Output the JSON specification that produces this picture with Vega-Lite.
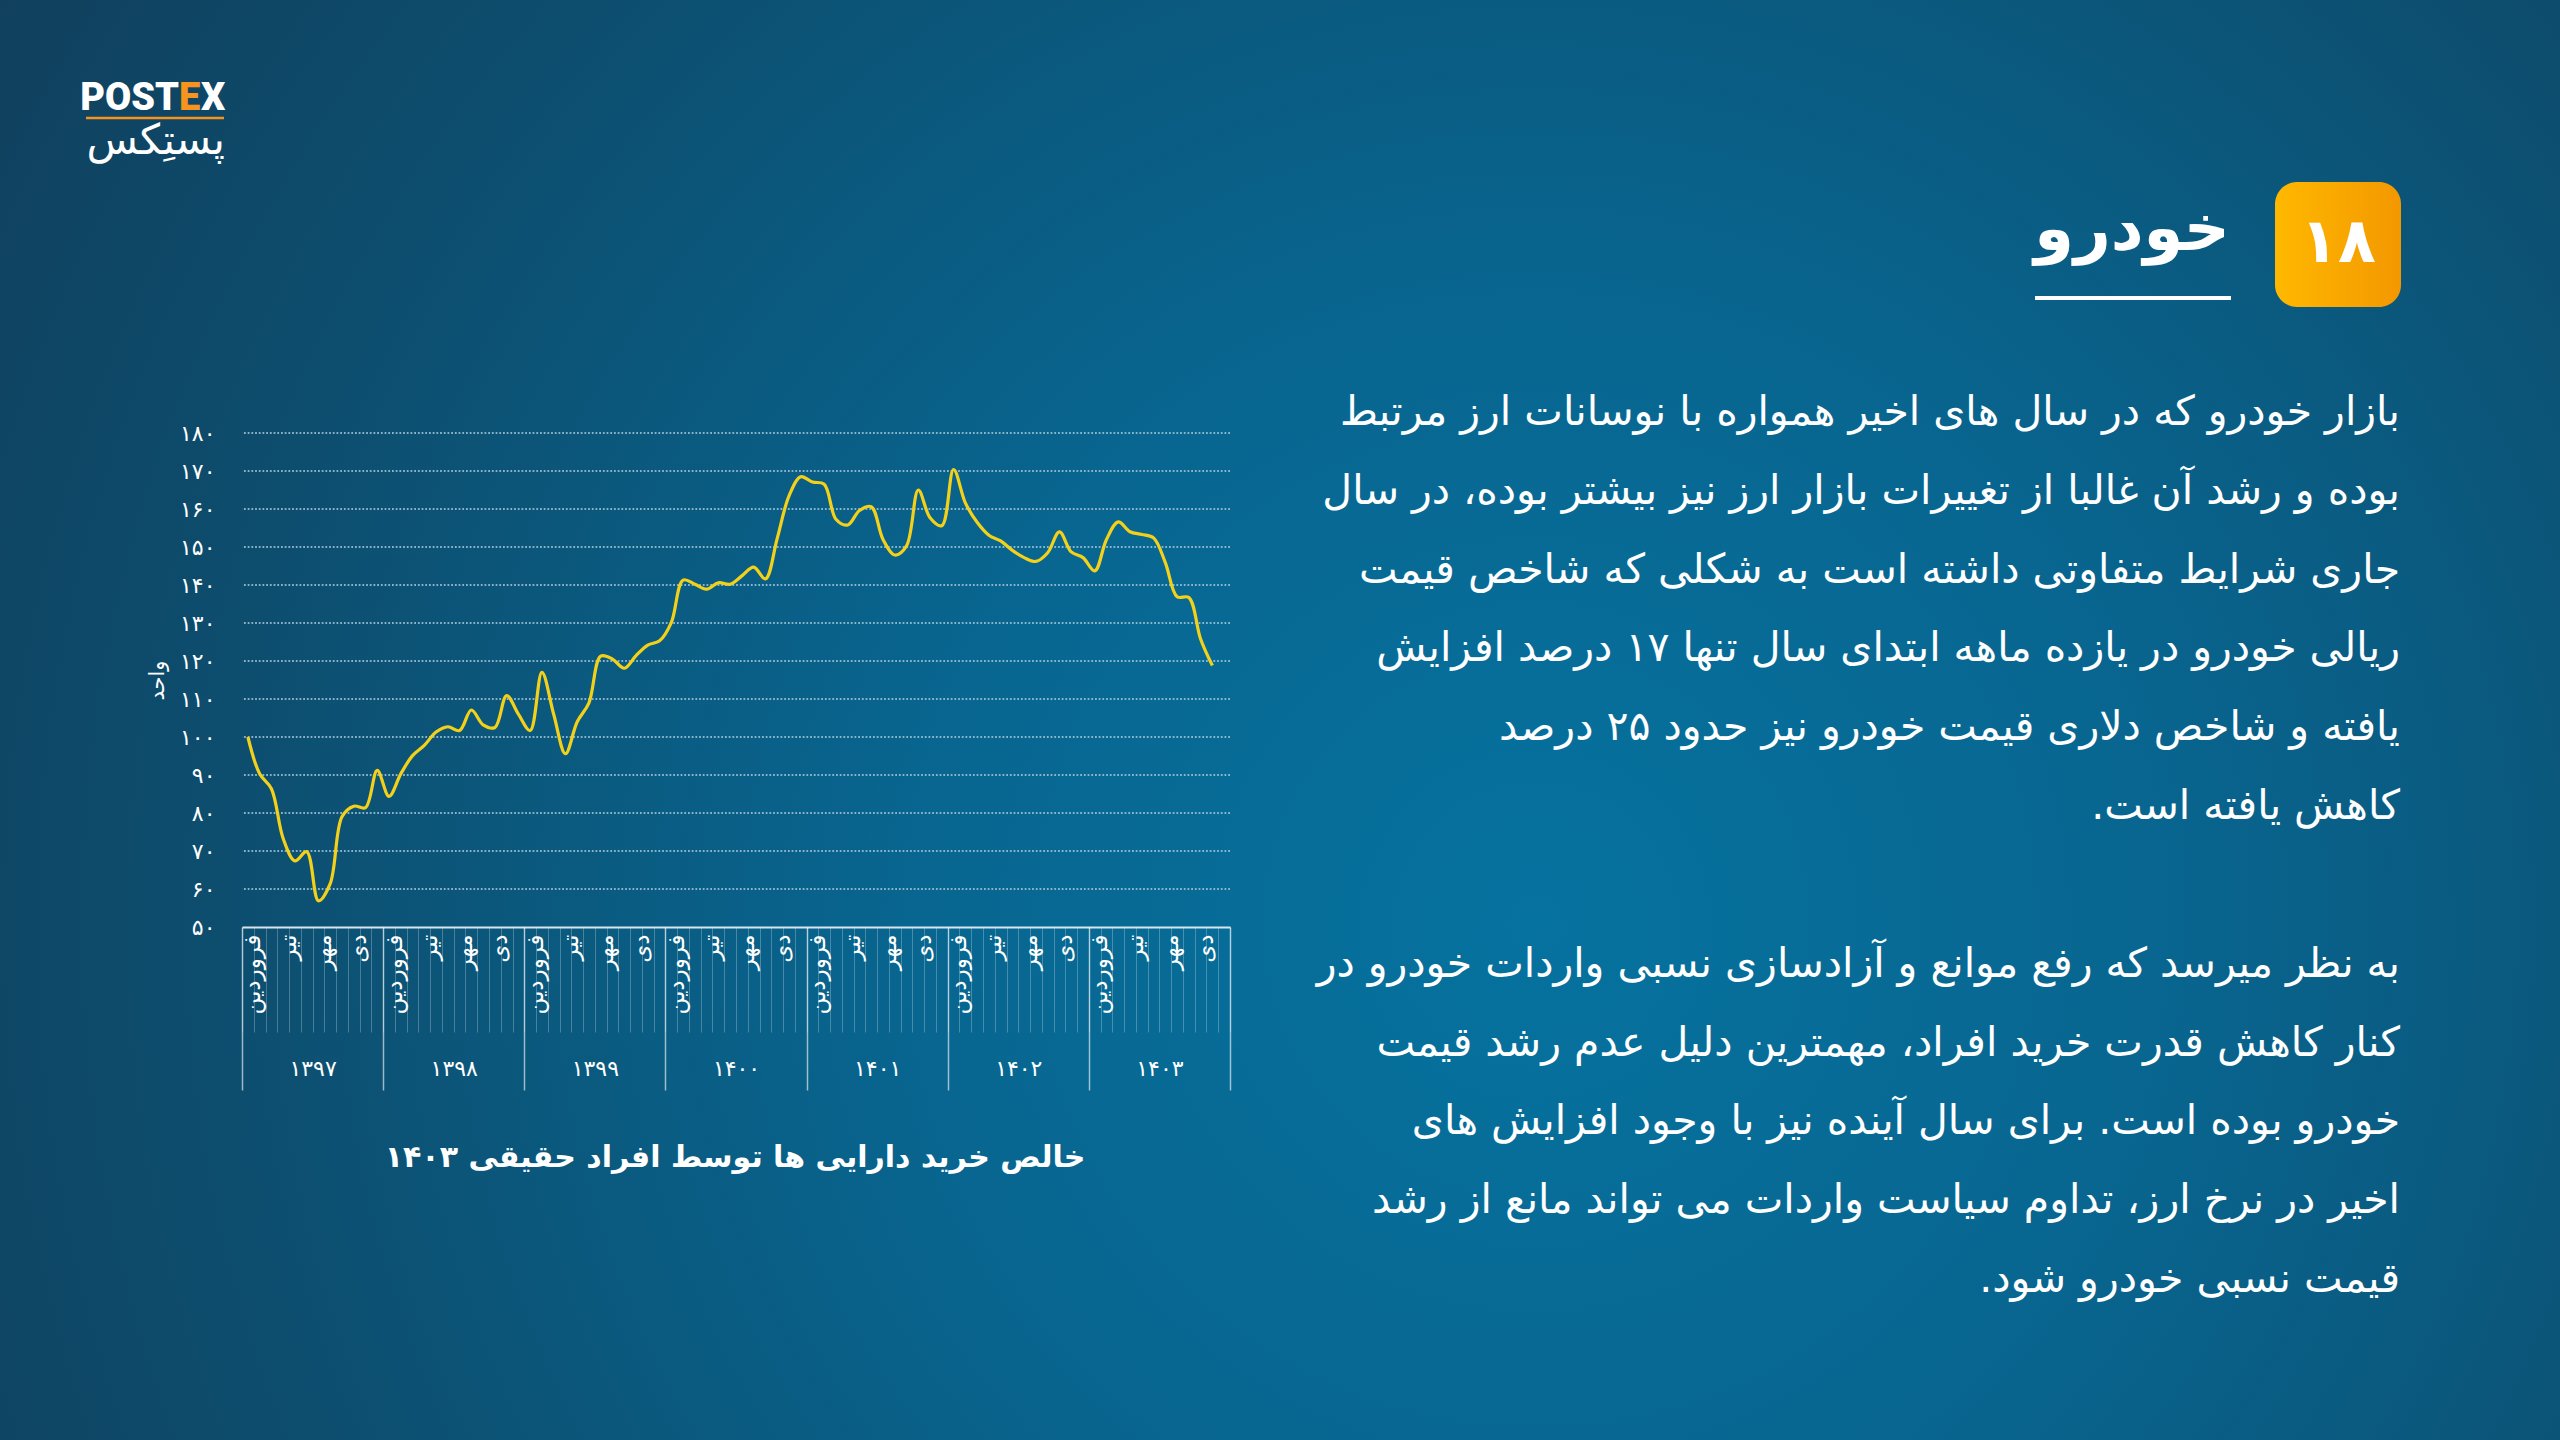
{
  "$schema": "https://vega.github.io/schema/vega-lite/v6.json",
  "width": 988,
  "height": 494,
  "autosize": "none",
  "padding": {"left": 242, "top": 433, "right": 1330, "bottom": 513},
  "background": "#0e4a6a",
  "config": {"view": {"stroke": null}, "font": "DejaVu Sans"},
  "resolve": {"scale": {"x": "independent", "y": "independent"}, "axis": {"x": "independent", "y": "independent"}},
  "layer": [
    {
      "data": {"values": [{"label": "bg"}]},
      "mark": {"type": "rect", "fill": {"gradient": "radial", "x1": 0.6, "y1": 0.58, "r1": 0, "x2": 0.6, "y2": 0.58, "r2": 0.8, "stops": [{"offset": 0, "color": "#06729f"}, {"offset": 0.3, "color": "#086690"}, {"offset": 0.65, "color": "#0d4d6e"}, {"offset": 1, "color": "#123954"}]}},
      "encoding": {
        "x": {"datum": 0, "type": "quantitative", "scale": {"domain": [0, 2560], "range": [-242, 2318], "nice": false, "zero": false}, "axis": null},
        "x2": {"datum": 2560},
        "y": {"datum": 0, "type": "quantitative", "scale": {"domain": [0, 1440], "range": [-433, 1007], "nice": false, "zero": false}, "axis": null},
        "y2": {"datum": 1440}
      }
    },
    {
      "data": {"values": [{"v": 60}, {"v": 70}, {"v": 80}, {"v": 90}, {"v": 100}, {"v": 110}, {"v": 120}, {"v": 130}, {"v": 140}, {"v": 150}, {"v": 160}, {"v": 170}, {"v": 180}]},
      "mark": {"type": "rule", "color": "#a9c9dc", "opacity": 0.8, "strokeWidth": 1.8, "strokeDash": [1.8, 1.9]},
      "encoding": {
        "y": {"field": "v", "type": "quantitative", "scale": {"domain": [50, 180], "nice": false, "zero": false}, "axis": null}
      }
    },
    {
      "data": {"values": [
        {"i": 1, "year": 1397, "month": 1, "v": 100}, {"i": 2, "year": 1397, "month": 2, "v": 90.3}, {"i": 3, "year": 1397, "month": 3, "v": 86.4}, {"i": 4, "year": 1397, "month": 4, "v": 73.3}, {"i": 5, "year": 1397, "month": 5, "v": 67.4}, {"i": 6, "year": 1397, "month": 6, "v": 69.8}, {"i": 7, "year": 1397, "month": 7, "v": 56.9}, {"i": 8, "year": 1397, "month": 8, "v": 61.4}, {"i": 9, "year": 1397, "month": 9, "v": 79}, {"i": 10, "year": 1397, "month": 10, "v": 81.8}, {"i": 11, "year": 1397, "month": 11, "v": 81.4}, {"i": 12, "year": 1397, "month": 12, "v": 91.2},
        {"i": 13, "year": 1398, "month": 1, "v": 84.4}, {"i": 14, "year": 1398, "month": 2, "v": 90.3}, {"i": 15, "year": 1398, "month": 3, "v": 95.1}, {"i": 16, "year": 1398, "month": 4, "v": 97.8}, {"i": 17, "year": 1398, "month": 5, "v": 101.3}, {"i": 18, "year": 1398, "month": 6, "v": 102.7}, {"i": 19, "year": 1398, "month": 7, "v": 101.7}, {"i": 20, "year": 1398, "month": 8, "v": 107.1}, {"i": 21, "year": 1398, "month": 9, "v": 103.2}, {"i": 22, "year": 1398, "month": 10, "v": 102.5}, {"i": 23, "year": 1398, "month": 11, "v": 110.9}, {"i": 24, "year": 1398, "month": 12, "v": 106},
        {"i": 25, "year": 1399, "month": 1, "v": 101.7}, {"i": 26, "year": 1399, "month": 2, "v": 117}, {"i": 27, "year": 1399, "month": 3, "v": 106}, {"i": 28, "year": 1399, "month": 4, "v": 95.6}, {"i": 29, "year": 1399, "month": 5, "v": 104}, {"i": 30, "year": 1399, "month": 6, "v": 109}, {"i": 31, "year": 1399, "month": 7, "v": 121.3}, {"i": 32, "year": 1399, "month": 8, "v": 120.5}, {"i": 33, "year": 1399, "month": 9, "v": 118.1}, {"i": 34, "year": 1399, "month": 10, "v": 121.4}, {"i": 35, "year": 1399, "month": 11, "v": 124.2}, {"i": 36, "year": 1399, "month": 12, "v": 125.3},
        {"i": 37, "year": 1400, "month": 1, "v": 130.1}, {"i": 38, "year": 1400, "month": 2, "v": 141.3}, {"i": 39, "year": 1400, "month": 3, "v": 140.2}, {"i": 40, "year": 1400, "month": 4, "v": 138.9}, {"i": 41, "year": 1400, "month": 5, "v": 140.6}, {"i": 42, "year": 1400, "month": 6, "v": 140.2}, {"i": 43, "year": 1400, "month": 7, "v": 142.4}, {"i": 44, "year": 1400, "month": 8, "v": 144.7}, {"i": 45, "year": 1400, "month": 9, "v": 141.6}, {"i": 46, "year": 1400, "month": 10, "v": 152.2}, {"i": 47, "year": 1400, "month": 11, "v": 163.4}, {"i": 48, "year": 1400, "month": 12, "v": 168.5},
        {"i": 49, "year": 1401, "month": 1, "v": 167.1}, {"i": 50, "year": 1401, "month": 2, "v": 166.5}, {"i": 51, "year": 1401, "month": 3, "v": 157.3}, {"i": 52, "year": 1401, "month": 4, "v": 155.8}, {"i": 53, "year": 1401, "month": 5, "v": 159.6}, {"i": 54, "year": 1401, "month": 6, "v": 160.6}, {"i": 55, "year": 1401, "month": 7, "v": 152}, {"i": 56, "year": 1401, "month": 8, "v": 147.9}, {"i": 57, "year": 1401, "month": 9, "v": 150.3}, {"i": 58, "year": 1401, "month": 10, "v": 165}, {"i": 59, "year": 1401, "month": 11, "v": 157.7}, {"i": 60, "year": 1401, "month": 12, "v": 155.6},
        {"i": 61, "year": 1402, "month": 1, "v": 170.4}, {"i": 62, "year": 1402, "month": 2, "v": 161.6}, {"i": 63, "year": 1402, "month": 3, "v": 156.5}, {"i": 64, "year": 1402, "month": 4, "v": 153.1}, {"i": 65, "year": 1402, "month": 5, "v": 151.6}, {"i": 66, "year": 1402, "month": 6, "v": 149.1}, {"i": 67, "year": 1402, "month": 7, "v": 147.2}, {"i": 68, "year": 1402, "month": 8, "v": 146.2}, {"i": 69, "year": 1402, "month": 9, "v": 148.5}, {"i": 70, "year": 1402, "month": 10, "v": 154}, {"i": 71, "year": 1402, "month": 11, "v": 148.7}, {"i": 72, "year": 1402, "month": 12, "v": 147.2},
        {"i": 73, "year": 1403, "month": 1, "v": 143.7}, {"i": 74, "year": 1403, "month": 2, "v": 152}, {"i": 75, "year": 1403, "month": 3, "v": 156.6}, {"i": 76, "year": 1403, "month": 4, "v": 154}, {"i": 77, "year": 1403, "month": 5, "v": 153.3}, {"i": 78, "year": 1403, "month": 6, "v": 152.4}, {"i": 79, "year": 1403, "month": 7, "v": 145.9}, {"i": 80, "year": 1403, "month": 8, "v": 136.9}, {"i": 81, "year": 1403, "month": 9, "v": 136.7}, {"i": 82, "year": 1403, "month": 10, "v": 125.8}, {"i": 83, "year": 1403, "month": 11, "v": 118.8}
      ]},
      "mark": {"type": "line", "color": "#f3d11b", "strokeWidth": 3.2, "interpolate": "catmull-rom"},
      "encoding": {
        "x": {"field": "i", "type": "ordinal",
          "scale": {"type": "band", "paddingInner": 0, "paddingOuter": 0, "domain": [1,2,3,4,5,6,7,8,9,10,11,12,13,14,15,16,17,18,19,20,21,22,23,24,25,26,27,28,29,30,31,32,33,34,35,36,37,38,39,40,41,42,43,44,45,46,47,48,49,50,51,52,53,54,55,56,57,58,59,60,61,62,63,64,65,66,67,68,69,70,71,72,73,74,75,76,77,78,79,80,81,82,83,84]},
          "axis": {"orient": "bottom", "title": null, "zindex": 1, "domain": true, "domainColor": "#d7e6ee", "domainWidth": 2, "tickBand": "extent", "ticks": true, "tickColor": "rgba(255,255,255,0.25)", "tickWidth": 1, "tickSize": 105, "labelAngle": 270, "labelAlign": "right", "labelBaseline": "middle", "labelPadding": -98, "labelOffset": 5, "labelColor": "white", "labelFontSize": 23, "labelFont": "DejaVu Sans", "labelOverlap": false, "labelFlush": false, "labelBound": false,
            "labelExpr": "datum.value % 12 == 1 ? 'فروردین' : datum.value % 12 == 4 ? 'تیر' : datum.value % 12 == 7 ? 'مهر' : datum.value % 12 == 10 ? 'دی' : ''"}
        },
        "y": {"field": "v", "type": "quantitative", "scale": {"domain": [50, 180], "nice": false, "zero": false},
          "axis": {"orient": "left", "zindex": 1, "grid": false, "domain": false, "ticks": false, "values": [50,60,70,80,90,100,110,120,130,140,150,160,170,180], "labelPadding": 27, "labelFontSize": 22, "labelColor": "white", "labelFont": "DejaVu Sans",
            "labelExpr": "replace(replace(replace(replace(replace(replace(replace(replace(replace(replace(datum.label, regexp('0','g'), '۰'), regexp('1','g'), '۱'), regexp('2','g'), '۲'), regexp('3','g'), '۳'), regexp('4','g'), '۴'), regexp('5','g'), '۵'), regexp('6','g'), '۶'), regexp('7','g'), '۷'), regexp('8','g'), '۸'), regexp('9','g'), '۹')",
            "title": "واحد", "titleColor": "white", "titleFontSize": 21, "titleFontWeight": "normal", "titleFont": "DejaVu Sans", "titlePadding": 12}
        }
      }
    },
    {
      "data": {"values": [{"year": "۱۳۹۷"}, {"year": "۱۳۹۸"}, {"year": "۱۳۹۹"}, {"year": "۱۴۰۰"}, {"year": "۱۴۰۱"}, {"year": "۱۴۰۲"}, {"year": "۱۴۰۳"}]},
      "mark": {"type": "rule", "opacity": 0},
      "encoding": {
        "x": {"field": "year", "type": "ordinal", "scale": {"type": "band", "paddingInner": 0, "paddingOuter": 0},
          "axis": {"orient": "bottom", "title": null, "zindex": 1, "domain": false, "tickBand": "extent", "ticks": true, "tickColor": "rgba(255,255,255,0.6)", "tickWidth": 1.5, "tickSize": 163, "labelAngle": 0, "labelAlign": "center", "labelBaseline": "middle", "labelPadding": -22, "labelColor": "white", "labelFontSize": 22, "labelFont": "DejaVu Sans"}
        }
      }
    },
    {
      "data": {"values": [{"label": "خالص خرید دارایی ها توسط افراد حقیقی ۱۴۰۳"}]},
      "mark": {"type": "text", "align": "center", "baseline": "alphabetic", "fontSize": 30, "fontWeight": "bold", "color": "white", "font": "DejaVu Sans"},
      "encoding": {
        "x": {"datum": 735, "type": "quantitative", "scale": {"domain": [0, 2560], "range": [-242, 2318], "nice": false, "zero": false}, "axis": null},
        "y": {"datum": 1167, "type": "quantitative", "scale": {"domain": [0, 1440], "range": [-433, 1007], "nice": false, "zero": false}, "axis": null},
        "text": {"field": "label"}
      }
    },
    {
      "data": {"values": [
        {"line": 0, "text": "بازار خودرو که در سال های اخیر همواره با نوسانات ارز مرتبط"},
        {"line": 1, "text": "بوده و رشد آن غالبا از تغییرات بازار ارز نیز بیشتر بوده، در سال"},
        {"line": 2, "text": "جاری شرایط متفاوتی داشته است به شکلی که شاخص قیمت"},
        {"line": 3, "text": "ریالی خودرو در یازده ماهه ابتدای سال تنها ۱۷ درصد افزایش"},
        {"line": 4, "text": "یافته و شاخص دلاری قیمت خودرو نیز حدود ۲۵ درصد"},
        {"line": 5, "text": "کاهش یافته است.‏"},
        {"line": 7, "text": "به نظر میرسد که رفع موانع و آزادسازی نسبی واردات خودرو در"},
        {"line": 8, "text": "کنار کاهش قدرت خرید افراد، مهمترین دلیل عدم رشد قیمت"},
        {"line": 9, "text": "خودرو بوده است. برای سال آینده نیز با وجود افزایش های"},
        {"line": 10, "text": "اخیر در نرخ ارز، تداوم سیاست واردات می تواند مانع از رشد"},
        {"line": 11, "text": "قیمت نسبی خودرو شود.‏"}
      ]},
      "mark": {"type": "text", "align": "right", "baseline": "alphabetic", "fontSize": 41, "color": "white", "font": "DejaVu Sans"},
      "encoding": {
        "x": {"datum": 2400, "type": "quantitative", "scale": {"domain": [0, 2560], "range": [-242, 2318], "nice": false, "zero": false}, "axis": null},
        "y": {"field": "line", "type": "quantitative", "scale": {"domain": [0, 11], "range": [-8, 859], "nice": false, "zero": false}, "axis": null},
        "text": {"field": "text"}
      }
    },
    {
      "data": {"values": [{"label": "خودرو"}]},
      "mark": {"type": "text", "align": "center", "baseline": "alphabetic", "fontSize": 64, "fontWeight": "bold", "color": "white", "font": "DejaVu Sans"},
      "encoding": {
        "x": {"datum": 2132, "type": "quantitative", "scale": {"domain": [0, 2560], "range": [-242, 2318], "nice": false, "zero": false}, "axis": null},
        "y": {"datum": 250, "type": "quantitative", "scale": {"domain": [0, 1440], "range": [-433, 1007], "nice": false, "zero": false}, "axis": null},
        "text": {"field": "label"}
      }
    },
    {
      "data": {"values": [{"label": "خودرو"}]},
      "mark": {"type": "rule", "color": "white", "strokeWidth": 4},
      "encoding": {
        "x": {"datum": 2035, "type": "quantitative", "scale": {"domain": [0, 2560], "range": [-242, 2318], "nice": false, "zero": false}, "axis": null},
        "x2": {"datum": 2231},
        "y": {"datum": 298, "type": "quantitative", "scale": {"domain": [0, 1440], "range": [-433, 1007], "nice": false, "zero": false}, "axis": null}
      }
    },
    {
      "data": {"values": [{"label": "۱۸"}]},
      "mark": {"type": "rect", "cornerRadius": 22, "fill": {"gradient": "linear", "x1": 0, "y1": 0, "x2": 1, "y2": 0, "stops": [{"offset": 0, "color": "#ffb800"}, {"offset": 1, "color": "#f39800"}]}},
      "encoding": {
        "x": {"datum": 2275, "type": "quantitative", "scale": {"domain": [0, 2560], "range": [-242, 2318], "nice": false, "zero": false}, "axis": null},
        "x2": {"datum": 2401},
        "y": {"datum": 182, "type": "quantitative", "scale": {"domain": [0, 1440], "range": [-433, 1007], "nice": false, "zero": false}, "axis": null},
        "y2": {"datum": 307}
      }
    },
    {
      "data": {"values": [{"label": "۱۸"}]},
      "mark": {"type": "text", "align": "center", "baseline": "middle", "fontSize": 62, "fontWeight": "bold", "color": "white", "font": "DejaVu Sans"},
      "encoding": {
        "x": {"datum": 2338, "type": "quantitative", "scale": {"domain": [0, 2560], "range": [-242, 2318], "nice": false, "zero": false}, "axis": null},
        "y": {"datum": 243, "type": "quantitative", "scale": {"domain": [0, 1440], "range": [-433, 1007], "nice": false, "zero": false}, "axis": null},
        "text": {"field": "label"}
      }
    },
    {
      "data": {"values": [{"label": "POST"}]},
      "mark": {"type": "text", "align": "right", "baseline": "alphabetic", "fontSize": 38, "fontWeight": 900, "color": "white", "font": "Roboto"},
      "encoding": {
        "x": {"datum": 179, "type": "quantitative", "scale": {"domain": [0, 2560], "range": [-242, 2318], "nice": false, "zero": false}, "axis": null},
        "y": {"datum": 110, "type": "quantitative", "scale": {"domain": [0, 1440], "range": [-433, 1007], "nice": false, "zero": false}, "axis": null},
        "text": {"field": "label"}
      }
    },
    {
      "data": {"values": [{"label": "E"}]},
      "mark": {"type": "text", "align": "left", "baseline": "alphabetic", "fontSize": 38, "fontWeight": 900, "color": "#f7941d", "font": "Roboto"},
      "encoding": {
        "x": {"datum": 179, "type": "quantitative", "scale": {"domain": [0, 2560], "range": [-242, 2318], "nice": false, "zero": false}, "axis": null},
        "y": {"datum": 110, "type": "quantitative", "scale": {"domain": [0, 1440], "range": [-433, 1007], "nice": false, "zero": false}, "axis": null},
        "text": {"field": "label"}
      }
    },
    {
      "data": {"values": [{"label": "X"}]},
      "mark": {"type": "text", "align": "left", "baseline": "alphabetic", "fontSize": 38, "fontWeight": 900, "color": "white", "font": "Roboto"},
      "encoding": {
        "x": {"datum": 201, "type": "quantitative", "scale": {"domain": [0, 2560], "range": [-242, 2318], "nice": false, "zero": false}, "axis": null},
        "y": {"datum": 110, "type": "quantitative", "scale": {"domain": [0, 1440], "range": [-433, 1007], "nice": false, "zero": false}, "axis": null},
        "text": {"field": "label"}
      }
    },
    {
      "data": {"values": [{"label": "POSTEX"}]},
      "mark": {"type": "rule", "color": "#f7941d", "strokeWidth": 2.5},
      "encoding": {
        "x": {"datum": 86, "type": "quantitative", "scale": {"domain": [0, 2560], "range": [-242, 2318], "nice": false, "zero": false}, "axis": null},
        "x2": {"datum": 224},
        "y": {"datum": 118, "type": "quantitative", "scale": {"domain": [0, 1440], "range": [-433, 1007], "nice": false, "zero": false}, "axis": null}
      }
    },
    {
      "data": {"values": [{"label": "پستِکس"}]},
      "mark": {"type": "text", "align": "right", "baseline": "alphabetic", "fontSize": 42, "color": "white", "font": "DejaVu Sans"},
      "encoding": {
        "x": {"datum": 225, "type": "quantitative", "scale": {"domain": [0, 2560], "range": [-242, 2318], "nice": false, "zero": false}, "axis": null},
        "y": {"datum": 154, "type": "quantitative", "scale": {"domain": [0, 1440], "range": [-433, 1007], "nice": false, "zero": false}, "axis": null},
        "text": {"field": "label"}
      }
    }
  ]
}
